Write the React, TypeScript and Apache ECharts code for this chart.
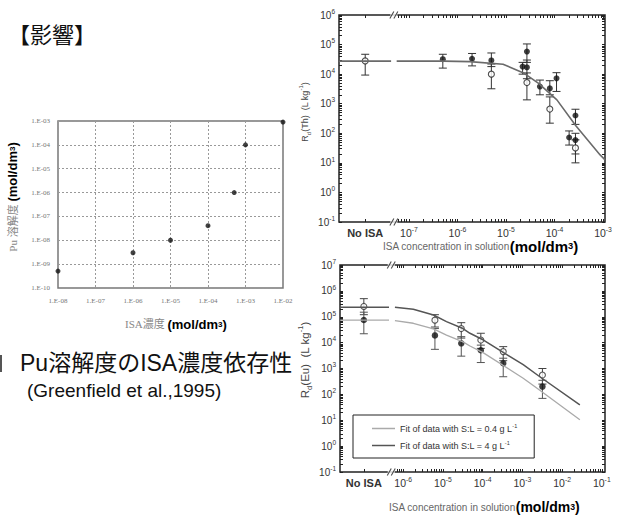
import React, { useEffect, useRef } from 'react';
import * as echarts from 'echarts';

// ---------- Left chart: Pu solubility vs ISA concentration (Greenfield et al., 1995) ----------
const puIsaConc = [1e-8, 1e-6, 1e-5, 1e-4, 5e-4, 1e-3, 1e-2];
const puSolubility = [5.1e-10, 3e-9, 1e-8, 4.1e-8, 1e-6, 1e-4, 9e-4];

// ---------- Top right: Rd(Th) (null concentration = "No ISA") ----------
const thFilledConc = [5e-7, 2e-6, 5e-6, 2.2e-5, 2.7e-5, 2.7e-5, 5e-5, 8e-5, 1.1e-4, 2e-4, 2.7e-4, 2.7e-4];
const thFilledRd = [3.2e4, 3.3e4, 2.9e4, 1.8e4, 5.8e4, 1.7e4, 3.8e3, 3.3e3, 7.2e3, 72, 4e2, 59];
const thFilledLo = [1.6e4, 1.9e4, 1.8e4, 1.0e4, 2.5e4, 7e3, 2e3, 2e3, 2.6e3, 40, 2e2, 20];
const thFilledHi = [4.7e4, 5.0e4, 5.2e4, 2.5e4, 1.05e5, 3e4, 6.3e3, 6e3, 1.12e4, 120, 6.5e2, 100];
const thOpenConc = [null, 5e-6, 2.7e-5, 8e-5, 2.7e-4];
const thOpenRd = [2.8e4, 1e4, 5.2e3, 6.6e2, 32];
const thOpenLo = [9.3e3, 3.2e3, 1.35e3, 2.2e2, 10];
const thOpenHi = [4.7e4, 2.2e4, 1.1e4, 1.7e3, 60];
// fit curve (null = gap at the axis break)
const thFitConc = [3.6e-9, 4.3e-8, null, 5.6e-8, 5.2e-7, 1.8e-6, 8.7e-6, 2.3e-5, 4.7e-5, 1.12e-4, 2.75e-4, 8.7e-4, 1.1e-3];
const thFitRd = [2.75e4, 2.75e4, null, 2.75e4, 2.75e4, 2.65e4, 2.15e4, 1.1e4, 4.9e3, 1.35e3, 180, 18.6, 12.6];

// ---------- Bottom right: Rd(Eu) ----------
const euConc = [null, 6.3e-6, 2.9e-5, 9e-5, 3.3e-4, 3.2e-3];
const euOpenRd = [2.5e5, 7.4e4, 3.5e4, 1.26e4, 4.5e3, 5.6e2];
const euOpenLo = [1.2e5, 4e4, 1.5e4, 6e3, 2e3, 2.5e2];
const euOpenHi = [5e5, 1.2e5, 5.9e4, 2.3e4, 7e3, 1e3];
const euFilledRd = [7.5e4, 1.9e4, 9.4e3, 5.1e3, 1.6e3, 2e2];
const euFilledLo = [2.2e4, 5.5e3, 3e3, 1.7e3, 4.8e2, 70];
const euFilledHi = [1.5e5, 3.5e4, 1.7e4, 8e3, 2.5e3, 3.5e2];
const euFitConc = [2.6e-8, 4.4e-7, null, 6.2e-7, 1.8e-6, 5.8e-6, 1.23e-5, 3.2e-5, 4.8e-5, 1.05e-4, 1.05e-3, 2.75e-3, 2.8e-2];
const euFit4Rd = [2.35e5, 2.35e5, null, 2.35e5, 1.95e5, 1.17e5, 6.5e4, 3.5e4, 2.3e4, 1.26e4, 1.4e3, 4.8e2, 39];
const euFit04Rd = [7.4e4, 7.4e4, null, 7.1e4, 5.6e4, 3.4e4, 1.95e4, 1.07e4, 7.4e3, 4e3, 4.2e2, 1.45e2, 10.5];

const FIT04 = 'Fit of data with S:L = 0.4 g L-1';
const FIT4 = 'Fit of data with S:L = 4 g L-1';

// axis tick labels
const thXLabels = [-7, -6, -5, -4, -3];
const euXLabels = [-6, -5, -4, -3, -2, -1];

// axis layout (log10 units)
const TH_XMIN = -8.44, TH_XMAX = -2.96, TH_NOISA = -7.9, TH_BREAK = -7.31;
const EU_XMIN = -7.59, EU_XMAX = -0.92, EU_NOISA = -6.99, EU_BREAK = -6.3;
const TH_YMIN = -1, TH_YMAX = 6;
const EU_YMIN = -1, EU_YMAX = 7;

const SANS = "'Liberation Sans', Arial, 'Noto Sans CJK JP', sans-serif";
const SERIF = "'Liberation Serif', 'Times New Roman', 'Noto Sans CJK JP', serif";
const CJK = "'Noto Sans CJK JP', 'Liberation Sans', sans-serif";

const L = (v: number) => Math.log10(v);

function logTicks(from: number, to: number) {
  const out: number[] = [];
  for (let n = Math.floor(from); n <= Math.ceil(to); n++) {
    for (let k = 1; k <= 9; k++) {
      const v = n + Math.log10(k);
      if (v >= from - 1e-9 && v <= to + 1e-9) out.push(v);
    }
  }
  return out;
}

const pts = (conc: any[], vals: number[], noIsa: number) =>
  conc.map((c, i) => [c === null ? noIsa : L(c), L(vals[i])]);
const fitPts = (conc: any[], vals: any[]) =>
  conc.map((c, i) => (c === null ? [NaN, NaN] : [L(c), L(vals[i])]));
const errPts = (conc: any[], lo: number[], hi: number[], noIsa: number) =>
  conc.map((c, i) => [c === null ? noIsa : L(c), L(lo[i]), L(hi[i])]);

const errSeries = (data: number[][], xi: number, yi: number, color: string) => ({
  type: 'custom',
  xAxisIndex: xi,
  yAxisIndex: yi,
  silent: true,
  clip: false,
  encode: { x: 0, y: [1, 2] },
  data,
  renderItem: (params: any, api: any) => {
    const x = api.value(0);
    const a = api.coord([x, api.value(1)]);
    const b = api.coord([x, api.value(2)]);
    const w = 4;
    const st = { stroke: color, lineWidth: 1 };
    return {
      type: 'group',
      children: [
        { type: 'line', shape: { x1: a[0], y1: a[1], x2: b[0], y2: b[1] }, style: st },
        { type: 'line', shape: { x1: a[0] - w, y1: a[1], x2: a[0] + w, y2: a[1] }, style: st },
        { type: 'line', shape: { x1: b[0] - w, y1: b[1], x2: b[0] + w, y2: b[1] }, style: st },
      ],
    };
  },
});

const fmtE = (v: number) => {
  const e = Math.round(Math.log10(v));
  return '1.E' + (e < 0 ? '-' : '+') + String(Math.abs(e)).padStart(2, '0');
};

const powRich = (fs: number) => ({
  sup: { fontSize: fs * 0.65, verticalAlign: 'top', lineHeight: 6, color: '#333', fontFamily: SANS },
  n: { fontSize: fs + 0.5, fontWeight: 'bold', color: '#333', fontFamily: SANS, lineHeight: 14 },
});

const xLabelFmt = (noIsa: number) => (v: number) =>
  Math.abs(v - noIsa) < 1e-6 ? '{n|No ISA}' : '10{sup|' + Math.round(v) + '}';

const rightXAxis = (grid: number, min: number, max: number, noIsa: number, brk: number, labels: number[], pos: string) => ({
  gridIndex: grid,
  type: 'value',
  min,
  max,
  position: pos,
  axisLine: { show: false, onZero: false },
  splitLine: { show: false },
  axisTick: {
    show: true,
    inside: true,
    length: 3,
    customValues: [noIsa, ...logTicks(brk + 0.08, max)],
    lineStyle: { color: '#222', width: 1 },
  },
  axisLabel: pos === 'bottom'
    ? {
        show: true,
        customValues: [noIsa, ...labels],
        formatter: xLabelFmt(noIsa),
        fontSize: 10.5,
        lineHeight: 14,
        color: '#333',
        fontFamily: SANS,
        margin: 4,
        rich: powRich(10.5),
      }
    : { show: false },
});

const rightYAxis = (grid: number, min: number, max: number, pos: string) => ({
  gridIndex: grid,
  type: 'value',
  min,
  max,
  interval: 1,
  position: pos,
  axisLine: { show: false, onZero: false },
  splitLine: { show: false },
  axisTick: {
    show: true,
    inside: true,
    length: 3,
    customValues: logTicks(min, max),
    lineStyle: { color: '#222', width: 1 },
  },
  axisLabel: pos === 'left'
    ? {
        show: true,
        formatter: (v: number) => '10{sup|' + Math.round(v) + '}',
        fontSize: 10,
        lineHeight: 14,
        color: '#333',
        fontFamily: SANS,
        margin: 4,
        rich: powRich(10),
      }
    : { show: false },
});

const breakSeries = (xi: number, yi: number, bx: number, ymin: number, ymax: number) => [
  {
    type: 'scatter', xAxisIndex: xi, yAxisIndex: yi, silent: true, clip: false, z: 5,
    symbol: 'rect', symbolSize: [7, 4], itemStyle: { color: '#fff' },
    data: [[bx, ymax], [bx, ymin]],
  },
  {
    type: 'scatter', xAxisIndex: xi, yAxisIndex: yi, silent: true, clip: false, z: 6,
    symbol: 'path://M0,10L4,0M4,10L8,0', symbolSize: [8, 7],
    itemStyle: { color: 'transparent', borderColor: '#222', borderWidth: 1 },
    data: [[bx, ymax], [bx, ymin]],
  },
];

const richTxt = (x: number, y: number, text: string, rich: any, rotation = 0, align = 'left') => ({
  type: 'text',
  x,
  y,
  rotation,
  silent: true,
  style: { text, rich, align, textAlign: align, verticalAlign: 'middle', textVerticalAlign: 'middle' },
});

export default function App() {
  const ref = useRef<HTMLDivElement>(null);
  useEffect(() => {
    if (!ref.current) return;
    const chart = echarts.init(ref.current, null, { renderer: 'svg' });

    const unitRich = (gs: number, bs: number, gFont: string, gColor: string) => ({
      g: { fontSize: gs, fontFamily: gFont, fill: gColor, color: gColor, lineHeight: bs + 3 },
      b: { fontSize: bs, fontFamily: SANS, fontWeight: 'bold', fill: '#000', color: '#000', lineHeight: bs + 3 },
      s: { fontSize: bs * 0.62, fontFamily: SANS, fontWeight: 'bold', fill: '#000', color: '#000', lineHeight: bs + 3 },
    });
    const rdRich = (fs: number) => ({
      r: { fontSize: fs, fontFamily: SANS, fill: '#444', lineHeight: fs + 4 },
      sub: { fontSize: fs * 0.65, fontFamily: SANS, fill: '#444', lineHeight: fs * 0.65, verticalAlign: 'bottom' },
      sup: { fontSize: fs * 0.65, fontFamily: SANS, fill: '#444', lineHeight: fs * 0.65, verticalAlign: 'top' },
    });

    const option: any = {
      animation: false,
      backgroundColor: '#fff',
      grid: [
        { left: 58, top: 121, width: 225, height: 167, show: true, borderColor: '#777', borderWidth: 1.5, outerBoundsMode: 'none' },
        { left: 339, top: 15, width: 266, height: 207, show: true, borderColor: '#222', borderWidth: 1.5, outerBoundsMode: 'none' },
        { left: 340, top: 265, width: 265, height: 207, show: true, borderColor: '#222', borderWidth: 1.5, outerBoundsMode: 'none' },
      ],
      xAxis: [
        {
          gridIndex: 0, type: 'log', logBase: 10, min: 1e-8, max: 1e-2, splitNumber: 6,
          axisLine: { show: false, onZero: false }, axisTick: { show: false },
          splitLine: { show: true, lineStyle: { type: [2, 2], color: '#999', width: 1 } },
          axisLabel: { formatter: fmtE, fontFamily: SERIF, fontSize: 7, color: '#777', margin: 9, showMinLabel: true, showMaxLabel: true },
        },
        rightXAxis(1, TH_XMIN, TH_XMAX, TH_NOISA, TH_BREAK, thXLabels, 'bottom'),
        rightXAxis(1, TH_XMIN, TH_XMAX, TH_NOISA, TH_BREAK, thXLabels, 'top'),
        rightXAxis(2, EU_XMIN, EU_XMAX, EU_NOISA, EU_BREAK, euXLabels, 'bottom'),
        rightXAxis(2, EU_XMIN, EU_XMAX, EU_NOISA, EU_BREAK, euXLabels, 'top'),
      ],
      yAxis: [
        {
          gridIndex: 0, type: 'log', logBase: 10, min: 1e-10, max: 1e-3, splitNumber: 7,
          axisLine: { show: false, onZero: false }, axisTick: { show: false },
          splitLine: { show: true, lineStyle: { type: [2, 2], color: '#999', width: 1 } },
          axisLabel: { formatter: fmtE, fontFamily: SERIF, fontSize: 7, color: '#777', margin: 8, showMinLabel: true, showMaxLabel: true },
        },
        rightYAxis(1, TH_YMIN, TH_YMAX, 'left'),
        rightYAxis(1, TH_YMIN, TH_YMAX, 'right'),
        rightYAxis(2, EU_YMIN, EU_YMAX, 'left'),
        rightYAxis(2, EU_YMIN, EU_YMAX, 'right'),
      ],
      legend: {
        data: [
          { name: FIT04, icon: 'rect', itemStyle: { color: '#aaa' } },
          { name: FIT4, icon: 'rect', itemStyle: { color: '#555' } },
        ],
        orient: 'vertical',
        left: 353,
        top: 415,
        padding: [8, 17, 7, 19],
        itemGap: 6,
        itemWidth: 23,
        itemHeight: 1.5,
        selectedMode: false,
        borderColor: '#222',
        borderWidth: 1,
        backgroundColor: '#fff',
        formatter: (name: string) => name.replace(/ L-1$/, ' L{sup|-1}'),
        textStyle: {
          fontSize: 9, color: '#333', fontFamily: SANS, lineHeight: 11,
          rich: { sup: { fontSize: 5.5, verticalAlign: 'top', lineHeight: 6, color: '#333' } },
        },
      },
      series: [
        // left chart
        {
          type: 'scatter', xAxisIndex: 0, yAxisIndex: 0, symbolSize: 5, clip: false,
          itemStyle: { color: '#111' },
          data: puIsaConc.map((c, i) => [c, puSolubility[i]]),
        },
        // Th chart
        errSeries(errPts(thOpenConc, thOpenLo, thOpenHi, TH_NOISA), 1, 1, '#333'),
        errSeries(errPts(thFilledConc, thFilledLo, thFilledHi, TH_NOISA), 1, 1, '#333'),
        {
          type: 'line', xAxisIndex: 1, yAxisIndex: 1, symbol: 'none', connectNulls: false,
          lineStyle: { color: '#6a6a6a', width: 1.6 },
          data: fitPts(thFitConc, thFitRd),
        },
        {
          type: 'scatter', xAxisIndex: 1, yAxisIndex: 1, symbolSize: 6, clip: false,
          itemStyle: { color: '#fff', borderColor: '#222', borderWidth: 1.1 },
          data: pts(thOpenConc, thOpenRd, TH_NOISA),
        },
        {
          type: 'scatter', xAxisIndex: 1, yAxisIndex: 1, symbolSize: 6, clip: false,
          itemStyle: { color: '#111' },
          data: pts(thFilledConc, thFilledRd, TH_NOISA),
        },
        ...breakSeries(1, 1, TH_BREAK, TH_YMIN, TH_YMAX),
        // Eu chart
        errSeries(errPts(euConc, euOpenLo, euOpenHi, EU_NOISA), 3, 3, '#444'),
        errSeries(errPts(euConc, euFilledLo, euFilledHi, EU_NOISA), 3, 3, '#555'),
        {
          name: FIT04, type: 'line', xAxisIndex: 3, yAxisIndex: 3, symbol: 'none', connectNulls: false,
          itemStyle: { color: '#aaa' },
          lineStyle: { color: '#aaa', width: 1.3 },
          data: fitPts(euFitConc, euFit04Rd),
        },
        {
          name: FIT4, type: 'line', xAxisIndex: 3, yAxisIndex: 3, symbol: 'none', connectNulls: false,
          itemStyle: { color: '#555' },
          lineStyle: { color: '#555', width: 1.5 },
          data: fitPts(euFitConc, euFit4Rd),
        },
        {
          type: 'scatter', xAxisIndex: 3, yAxisIndex: 3, symbolSize: 6, clip: false,
          itemStyle: { color: '#fff', borderColor: '#333', borderWidth: 1.1 },
          data: pts(euConc, euOpenRd, EU_NOISA),
        },
        {
          type: 'scatter', xAxisIndex: 3, yAxisIndex: 3, symbolSize: 6.5, clip: false,
          itemStyle: { color: '#111' },
          data: pts(euConc, euFilledRd, EU_NOISA),
        },
        ...breakSeries(3, 3, EU_BREAK, EU_YMIN, EU_YMAX),
      ],
      graphic: [
        {
          type: 'text', x: 8, y: 33, silent: true,
          style: { text: '【影響】', fontSize: 22, fontFamily: CJK, fill: '#111', verticalAlign: 'middle', textVerticalAlign: 'middle' },
        },
        {
          type: 'text', x: 20, y: 363, silent: true,
          style: { text: 'Pu溶解度のISA濃度依存性', fontSize: 23, fontFamily: SANS, fill: '#111', verticalAlign: 'middle', textVerticalAlign: 'middle' },
        },
        {
          type: 'text', x: 27, y: 390, silent: true,
          style: { text: '(Greenfield et al.,1995)', fontSize: 19, fontFamily: SANS, fill: '#111', verticalAlign: 'middle', textVerticalAlign: 'middle' },
        },
        { type: 'rect', silent: true, shape: { x: 0, y: 355, width: 2, height: 17 }, style: { fill: '#555' } },
        richTxt(125, 324, '{g|ISA濃度 }{b|(mol/dm}{s|3}{b|)}', unitRich(11, 13, SERIF, '#888')),
        richTxt(12.5, 197, '{g|Pu 溶解度 }{b|(mol/dm}{s|3}{b|)}', unitRich(11, 13, SERIF, '#888'), Math.PI / 2, 'center'),
        richTxt(383, 246, '{g|ISA concentration in solution}{b|(mol/dm}{s|3}{b|)}', unitRich(10, 15, SANS, '#666')),
        richTxt(389, 507, '{g|ISA concentration in solution}{b|(mol/dm}{s|3}{b|)}', unitRich(10, 14, SANS, '#666')),
        richTxt(305, 112, '{r|R}{sub|d}{r|(Th)  (L kg}{sup|-1}{r|)}', rdRich(9), Math.PI / 2, 'center'),
        richTxt(305, 360, '{r|R}{sub|d}{r|(Eu)  (L kg}{sup|-1}{r|)}', rdRich(11.5), Math.PI / 2, 'center'),
      ],
    };

    chart.setOption(option);
    return () => chart.dispose();
  }, []);

  return (
    <div
      ref={ref}
      style={{ position: 'absolute', left: 0, top: 0, width: 620, height: 517, background: '#fff' }}
    />
  );
}
